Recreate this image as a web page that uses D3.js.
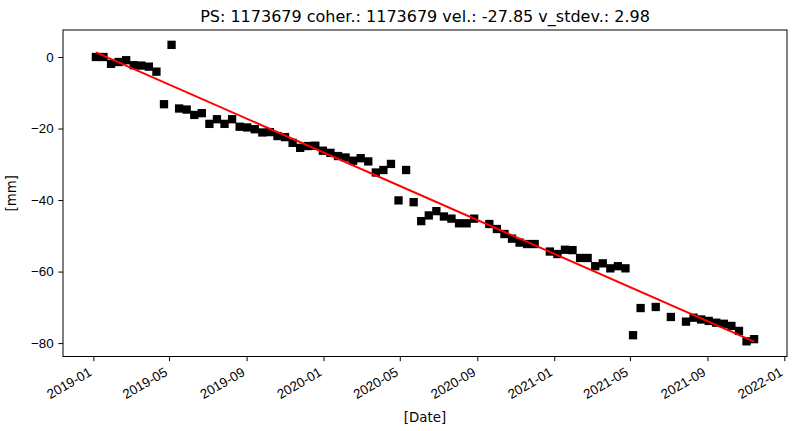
<!DOCTYPE html>
<html>
<head>
<meta charset="utf-8">
<script src="https://cdn.jsdelivr.net/npm/d3@7"></script>
<style>
  body { margin: 0; background: #fff; }
  svg { display: block; font-family: "DejaVu Sans", sans-serif; }
</style>
</head>
<body>
<svg id="chart" width="799" height="431"></svg>
<script>
// ---- data ----
const titleText = "PS: 1173679 coher.: 1173679 vel.: -27.85 v_stdev.: 2.98";
const dates = [
  "2019-01-05","2019-01-17","2019-01-29","2019-02-10","2019-02-22","2019-03-06","2019-03-18","2019-03-30",
  "2019-04-11","2019-04-23","2019-05-05","2019-05-17","2019-05-29","2019-06-10","2019-06-22","2019-07-04",
  "2019-07-16","2019-07-28","2019-08-09","2019-08-21","2019-09-02","2019-09-14","2019-09-26","2019-10-08",
  "2019-10-20","2019-11-01","2019-11-13","2019-11-25","2019-12-07","2019-12-19","2019-12-31","2020-01-12",
  "2020-01-24","2020-02-05","2020-02-17","2020-02-29","2020-03-12","2020-03-24","2020-04-05","2020-04-17",
  "2020-04-29","2020-05-11","2020-05-23","2020-06-04","2020-06-16","2020-06-28","2020-07-10","2020-07-22",
  "2020-08-03","2020-08-15","2020-08-27","2020-09-20","2020-10-02","2020-10-14","2020-10-26","2020-11-07",
  "2020-11-19","2020-12-01","2020-12-25","2021-01-06","2021-01-18","2021-01-30","2021-02-11","2021-02-23",
  "2021-03-07","2021-03-19","2021-03-31","2021-04-12","2021-04-24","2021-05-06","2021-05-18","2021-06-11",
  "2021-07-05","2021-07-29","2021-08-10","2021-08-22","2021-09-03","2021-09-15","2021-09-27","2021-10-09",
  "2021-10-21","2021-11-02","2021-11-14"
];
const displacement = [
  0, 0, -1.9, -1.4, -0.9, -2.3, -2.4, -2.7,
  -4.1, -13.2, 3.4, -14.4, -14.7, -16.2, -15.7, -18.7,
  -17.4, -18.7, -17.4, -19.5, -19.7, -20.2, -21.1, -21.0,
  -22.1, -22.4, -24.0, -25.4, -24.9, -24.8, -26.2, -26.8,
  -27.7, -28.1, -29.0, -28.3, -29.2, -32.3, -31.6, -29.9,
  -40.1, -31.6, -40.6, -45.9, -44.3, -43.1, -44.6, -45.2,
  -46.5, -46.5, -45.2, -46.7, -48.1, -49.5, -50.8, -51.9,
  -52.3, -52.3, -54.4, -55.1, -53.9, -54.0, -56.2, -56.2,
  -58.5, -57.7, -59.1, -58.5, -59.1, -77.8, -70.2, -69.9,
  -72.7, -74.0, -72.9, -73.4, -73.8, -74.3, -74.6, -75.2,
  -76.6, -79.5, -78.9
];
const trendDates = ["2019-01-05", "2021-11-14"];
const trendValues = [1.3, -79.6];
const xTickDates = ["2019-01-01","2019-05-01","2019-09-01","2020-01-01","2020-05-01","2020-09-01","2021-01-01","2021-05-01","2021-09-01","2022-01-01"];
const yTicks = [0, -20, -40, -60, -80];
const xLabel = "[Date]";
const yLabel = "[mm]";

// ---- layout ----
const W = 799, H = 431;
const L = 63, R = 787, T = 30, B = 356.5;
const parse = d3.utcParse("%Y-%m-%d");
const pts = dates.map((d, i) => ({ t: parse(d), v: displacement[i] }));
const trend = trendDates.map((d, i) => ({ t: parse(d), v: trendValues[i] }));

const tExt = d3.extent(pts.concat(trend), d => +d.t);
const tPad = (tExt[1] - tExt[0]) * 0.05;
const x = d3.scaleUtc().domain([new Date(tExt[0] - tPad), new Date(tExt[1] + tPad)]).range([L, R]);

const vExt = d3.extent(pts.concat(trend), d => d.v);
const vPad = (vExt[1] - vExt[0]) * 0.05;
const y = d3.scaleLinear().domain([vExt[0] - vPad, vExt[1] + vPad]).range([B, T]);

const svg = d3.select("#chart");
svg.append("rect").attr("width", W).attr("height", H).attr("fill", "#fff");

// points
svg.append("g").selectAll("rect").data(pts).join("rect")
  .attr("x", d => x(d.t) - 4.15)
  .attr("y", d => y(d.v) - 4.15)
  .attr("width", 8.3).attr("height", 8.3)
  .attr("fill", "#000");

// trend line
svg.append("path")
  .datum(trend)
  .attr("d", d3.line().x(d => x(d.t)).y(d => y(d.v)))
  .attr("fill", "none").attr("stroke", "#ff0000").attr("stroke-width", 2);

// frame
svg.append("rect").attr("x", L).attr("y", T).attr("width", R - L).attr("height", B - T)
  .attr("fill", "none").attr("stroke", "#000").attr("stroke-width", 1);

// x axis
const xAxis = d3.axisBottom(x).tickValues(xTickDates.map(parse)).tickFormat(d3.utcFormat("%Y-%m")).tickSize(4.7).tickPadding(0);
const gx = svg.append("g").attr("transform", `translate(0,${B})`).call(xAxis);
gx.select(".domain").remove();
gx.selectAll(".tick line").attr("stroke", "#000");
gx.selectAll(".tick text")
  .attr("font-size", 13.33).attr("fill", "#000")
  .attr("text-anchor", "end")
  .attr("dy", null).attr("y", null)
  .attr("dominant-baseline", "hanging")
  .attr("transform", "translate(-6,10) rotate(-30)");

// y axis
const yAxis = d3.axisLeft(y).tickValues(yTicks).tickFormat(d => d3.format("d")(d).replace("-", "\u2212")).tickSize(4.7).tickPadding(4.7);
const gy = svg.append("g").attr("transform", `translate(${L},0)`).call(yAxis);
gy.select(".domain").remove();
gy.selectAll(".tick line").attr("stroke", "#000");
gy.selectAll(".tick text").attr("font-size", 13.33).attr("fill", "#000");

// labels
svg.append("text").attr("x", (L + R) / 2).attr("y", 22).attr("text-anchor", "middle")
  .attr("font-size", 16).attr("fill", "#000").text(titleText);
svg.append("text").attr("x", (L + R) / 2).attr("y", 422).attr("text-anchor", "middle")
  .attr("font-size", 13.33).attr("fill", "#000").text(xLabel);
svg.append("text").attr("transform", `translate(16,${(T + B) / 2}) rotate(-90)`).attr("text-anchor", "middle")
  .attr("font-size", 13.33).attr("fill", "#000").text(yLabel);
</script>
</body>
</html>
